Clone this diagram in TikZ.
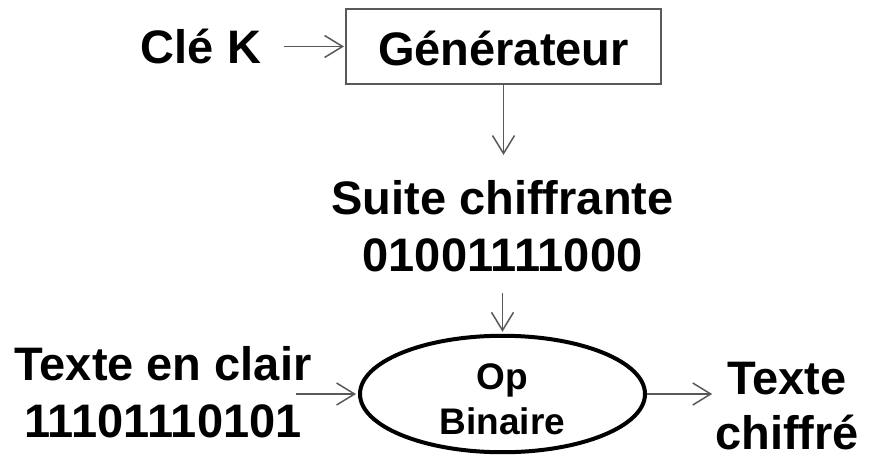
\documentclass[tikz,border=0pt]{standalone}
\usepackage{fontspec}
\setmainfont{Liberation Sans}
\usetikzlibrary{arrows.meta,shapes.geometric}
\definecolor{linegray}{HTML}{595959}

\begin{document}
\begin{tikzpicture}[x=1pt,y=-1pt,
  lbl/.style={font=\fontsize{47}{57}\selectfont\bfseries, inner sep=0pt, outer sep=0pt, align=center},
  genbox/.style={draw=linegray, line width=2pt, rectangle, inner sep=0pt,
    minimum width=315pt, minimum height=75pt, text height=37pt, text depth=0pt,
    font=\fontsize{47}{57}\selectfont\bfseries},
  opnode/.style={draw=black, line width=4pt, ellipse, inner sep=0pt,
    minimum width=285pt, minimum height=110pt, align=center,
    font=\fontsize{37}{45}\selectfont\bfseries},
  flow/.style={draw=linegray, line width=1.5pt,
    -{Straight Barb[length=18pt,width=22pt,line width=1.5pt]}},
]
\useasboundingbox (0,0) rectangle (875,458);

% labels and blocks (multi-line labels are placed by the baseline of their last line)
\node[lbl, anchor=base] (cle) at (201,63) {Clé K};
\node[genbox] (gen) at (503.5,46.5) {Générateur};
\node[lbl, anchor=base] (suite) at (502.5,271) {Suite chiffrante\\01001111000};
\node[opnode] (op) at (502.5,394) {\rule{0pt}{37pt}Op\\Binaire};
\node[lbl, anchor=base] (clair) at (163,437) {Texte en clair\\11101110101};
\node[lbl, anchor=base, font=\fontsize{47}{55}\selectfont\bfseries] (chiffre) at (787,449) {Texte\\chiffré};

% connectors
\draw[flow, shorten <=23pt, shorten >=1pt] (cle.east |- gen.west) -- (gen.west);
\draw[flow, shorten >=25pt] (gen.south) -- (gen.south |- suite.north);
\draw[flow, shorten <=22pt, shorten >=2pt] (op.north |- suite.south) -- (op.north);
\draw[flow, shorten >=2pt] ([xshift=-15pt]clair.east |- op.west) -- (op.west);
\draw[flow, shorten >=3pt] (op.east) -- (op.east -| chiffre.west);
\end{tikzpicture}
\end{document}
